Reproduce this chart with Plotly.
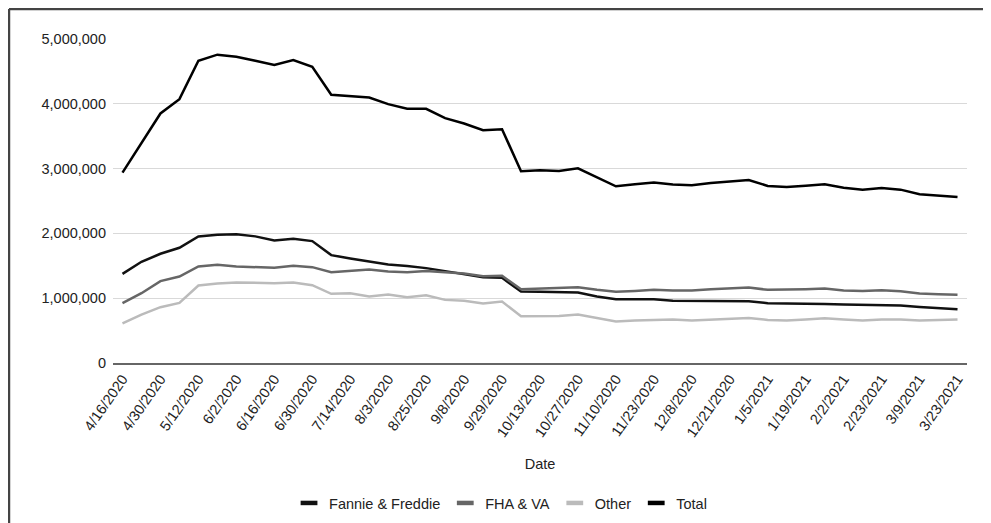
import plotly.graph_objects as go

dates = ["4/16/2020", "4/23/2020", "4/30/2020", "5/5/2020", "5/12/2020", "5/19/2020",
         "6/2/2020", "6/9/2020", "6/16/2020", "6/23/2020", "6/30/2020", "7/7/2020",
         "7/14/2020", "7/27/2020", "8/3/2020", "8/17/2020", "8/25/2020", "9/1/2020",
         "9/8/2020", "9/22/2020", "9/29/2020", "10/6/2020", "10/13/2020", "10/20/2020",
         "10/27/2020", "11/3/2020", "11/10/2020", "11/17/2020", "11/23/2020", "11/30/2020",
         "12/8/2020", "12/15/2020", "12/21/2020", "12/28/2020", "1/5/2021", "1/12/2021",
         "1/19/2021", "1/26/2021", "2/2/2021", "2/9/2021", "2/23/2021", "3/2/2021",
         "3/9/2021", "3/16/2021", "3/23/2021"]

tick_labels = ["4/16/2020", "4/30/2020", "5/12/2020", "6/2/2020", "6/16/2020", "6/30/2020",
               "7/14/2020", "8/3/2020", "8/25/2020", "9/8/2020", "9/29/2020", "10/13/2020",
               "10/27/2020", "11/10/2020", "11/23/2020", "12/8/2020", "12/21/2020", "1/5/2021",
               "1/19/2021", "2/2/2021", "2/23/2021", "3/9/2021", "3/23/2021"]

fannie_freddie = [1376000, 1562000, 1686000, 1778000, 1954000, 1979000, 1985000, 1954000,
                  1892000, 1918000, 1881000, 1665000, 1613000, 1572000, 1521000, 1495000,
                  1464000, 1418000, 1376000, 1325000, 1314000, 1103000, 1100000, 1093000,
                  1088000, 1026000, 985000, 985000, 985000, 959000, 959000, 964000,
                  954000, 954000, 923000, 923000, 918000, 912000, 902000, 897000,
                  897000, 887000, 866000, 851000, 830000]

fha_va = [923000, 1077000, 1263000, 1335000, 1490000, 1515000, 1490000, 1479000,
          1469000, 1500000, 1479000, 1402000, 1423000, 1443000, 1412000, 1402000,
          1418000, 1397000, 1381000, 1340000, 1345000, 1139000, 1152000, 1160000,
          1170000, 1129000, 1098000, 1113000, 1129000, 1119000, 1119000, 1139000,
          1149000, 1165000, 1129000, 1129000, 1139000, 1149000, 1119000, 1113000,
          1124000, 1108000, 1072000, 1062000, 1052000]

other = [613000, 747000, 861000, 928000, 1196000, 1227000, 1242000, 1232000,
         1232000, 1242000, 1201000, 1067000, 1077000, 1026000, 1057000, 1015000,
         1046000, 974000, 959000, 918000, 948000, 722000, 727000, 727000,
         747000, 691000, 639000, 655000, 665000, 670000, 655000, 670000,
         691000, 696000, 665000, 655000, 670000, 691000, 670000, 655000,
         670000, 670000, 655000, 660000, 670000]

total = [2938000, 3397000, 3851000, 4072000, 4665000, 4758000, 4727000, 4665000,
         4598000, 4675000, 4572000, 4139000, 4119000, 4098000, 3995000, 3923000,
         3923000, 3778000, 3696000, 3593000, 3608000, 2959000, 2974000, 2964000,
         3005000, 2861000, 2727000, 2758000, 2784000, 2753000, 2742000, 2778000,
         2799000, 2825000, 2732000, 2716000, 2737000, 2758000, 2706000, 2675000,
         2701000, 2675000, 2603000, 2582000, 2562000]

series = [
    ("Fannie & Freddie", fannie_freddie, "#111111"),
    ("FHA & VA", fha_va, "#666666"),
    ("Other", other, "#bbbbbb"),
    ("Total", total, "#000000"),
]

FS = 14.5

fig = go.Figure()
for name, vals, color in series:
    fig.add_trace(go.Scatter(
        x=dates, y=vals, mode="lines", name=name, showlegend=False,
        line=dict(color=color, width=2.5),
        hovertemplate="%{x}<br>%{y:,}<extra>" + name + "</extra>",
    ))
# legend entries (short thick line keys)
for name, vals, color in series:
    fig.add_trace(go.Scatter(
        x=[None], y=[None], mode="markers", name=name,
        marker=dict(symbol="line-ew", size=12, color=color,
                    line=dict(color=color, width=4.5)),
    ))

fig.update_layout(
    width=991, height=523,
    margin=dict(l=105, r=32, t=31, b=168),
    paper_bgcolor="white", plot_bgcolor="white",
    font=dict(family="Liberation Sans, Arial, sans-serif", size=FS, color="#222222"),
    legend=dict(orientation="h", xref="container", yref="container",
                x=0.497, xanchor="center", y=0.0535, yanchor="middle",
                font=dict(size=FS, color="#222222"), bgcolor="rgba(0,0,0,0)"),
    xaxis=dict(
        type="category", tickmode="array", tickvals=tick_labels, ticktext=tick_labels,
        tickangle=-55, range=[-0.5, 44.5], showgrid=False,
        showline=True, linecolor="#666666", linewidth=1.5, ticks="",
        title=dict(text="Date", font=dict(size=FS, color="#222222"), standoff=20),
        tickfont=dict(size=FS, color="#222222"), automargin=False,
    ),
    yaxis=dict(
        range=[0, 5000000], tickvals=[0, 1000000, 2000000, 3000000, 4000000, 5000000],
        tickformat=",d", showgrid=True, gridcolor="#d9d9d9", gridwidth=1,
        zeroline=False, ticks="", ticklabelstandoff=6,
        tickfont=dict(size=FS, color="#222222"), automargin=False,
    ),
    shapes=[
        dict(type="line", xref="paper", yref="paper", x0=-0.1218, x1=1.04, y0=1.0926, y1=1.0926,
             line=dict(color="#444444", width=2.5)),
        dict(type="line", xref="paper", yref="paper", x0=-0.1218, x1=-0.1218, y0=1.0926, y1=-0.52,
             line=dict(color="#444444", width=2.5)),
    ],
)

fig.write_html("out.html")
